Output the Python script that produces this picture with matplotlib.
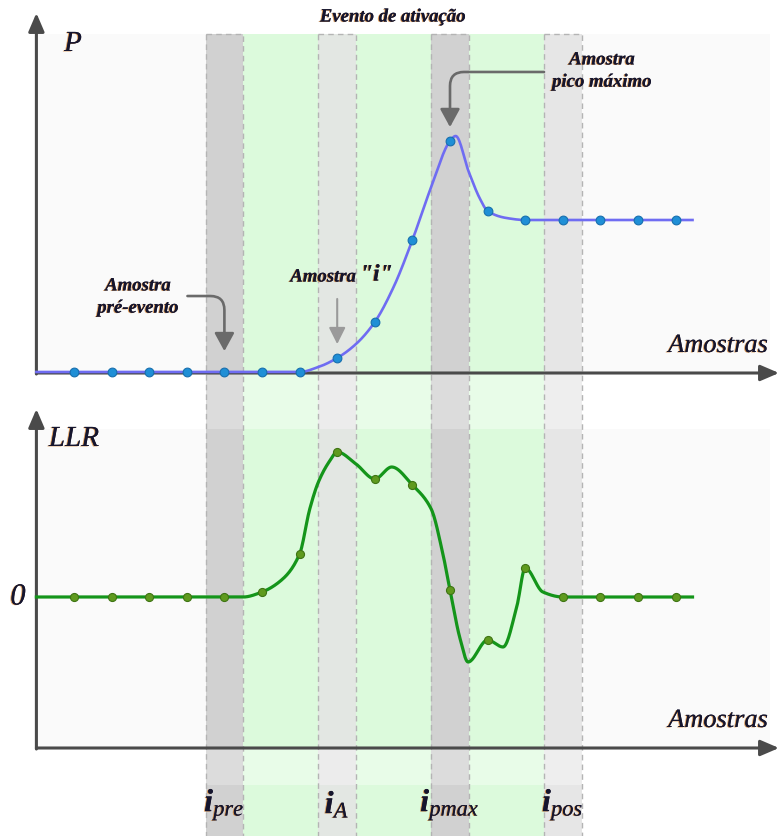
import numpy as np
import matplotlib
matplotlib.use("Agg")
import matplotlib.pyplot as plt
import matplotlib.patheffects as pe
from matplotlib.patches import Rectangle

plt.rcParams["font.family"] = ["Liberation Serif", "DejaVu Serif"]
plt.rcParams["mathtext.fontset"] = "custom"
plt.rcParams["mathtext.rm"] = "Liberation Serif"
plt.rcParams["mathtext.it"] = "Liberation Serif:italic"
plt.rcParams["mathtext.bf"] = "Liberation Serif:bold"
plt.rcParams["mathtext.bfit"] = "Liberation Serif:bold:italic"

# sample values (arbitrary units)
samples = np.arange(1, 18)
p_samples = [0, 0, 0, 0, 0, 0, 0, 0.14, 0.50, 1.32, 2.31, 1.61, 1.52, 1.52, 1.52, 1.52, 1.52]
llr_samples = [0, 0, 0, 0, 0, 0.05, 0.43, 1.45, 1.18, 1.12, 0.07, -0.43, 0.29, 0, 0, 0, 0]

# extra points of the continuous curves between samples
p_extra_x = [0, 7.5, 8.5, 9.5, 10.5, 11.15, 11.5, 11.8, 12.5, 17.45]
p_extra_y = [0, 0.05, 0.28, 0.85, 1.85, 2.36, 2.00, 1.73, 1.54, 1.52]
llr_extra_x = [0, 5.5, 6.55, 7.27, 7.5, 7.8, 8.5, 9.45, 10.5, 10.8, 11.27, 11.48,
               12.41, 12.78, 13.47, 17.45]
llr_extra_y = [0, 0, 0.18, 0.88, 1.15, 1.36, 1.33, 1.30, 0.88, 0.45, -0.42, -0.65,
               -0.50, -0.09, 0.05, 0]

# event windows: (label, sample, kind)
marks = [("pre", 5, "dark"), ("A", 8, "light"), ("pmax", 11, "dark"), ("pos", 14, "pale")]
green_spans = [(5.5, 7.5), (8.5, 10.5), (11.5, 13.5)]

W, H = 779.0, 837.0
X0, DX = 36.4, 37.6          # pixel column of sample 0 and sample spacing
XLIM = (-X0 / DX, (W - X0) / DX)


def kx(px):
    return (px - X0) / DX


def pchip(xk, yk, xs):
    xk = np.asarray(xk, float)
    yk = np.asarray(yk, float)
    h = np.diff(xk)
    d = np.diff(yk) / h
    m = np.zeros_like(yk)
    for i in range(1, len(xk) - 1):
        if d[i - 1] * d[i] > 0:
            w1 = 2 * h[i] + h[i - 1]
            w2 = h[i] + 2 * h[i - 1]
            m[i] = (w1 + w2) / (w1 / d[i - 1] + w2 / d[i])
    m[0], m[-1] = d[0], d[-1]
    idx = np.clip(np.searchsorted(xk, xs) - 1, 0, len(xk) - 2)
    t = (xs - xk[idx]) / h[idx]
    h00 = 2 * t**3 - 3 * t**2 + 1
    h10 = t**3 - 2 * t**2 + t
    h01 = -2 * t**3 + 3 * t**2
    h11 = t**3 - t**2
    return (h00 * yk[idx] + h10 * h[idx] * m[idx]
            + h01 * yk[idx + 1] + h11 * h[idx] * m[idx + 1])


def knots(sx, sy, ex, ey):
    pts = sorted(set(zip(list(sx), list(sy))) | set(zip(ex, ey)))
    return [p[0] for p in pts], [p[1] for p in pts]


fig = plt.figure(figsize=(W / 100, H / 100), dpi=100)

# background layer in (sample, pixel row) coordinates
bg = fig.add_axes([0, 0, 1, 1])
bg.set_xlim(XLIM)
bg.set_ylim(H, 0)
bg.axis("off")

panels = [(35, 375), (430, 750)]
for top, bot in panels:
    bg.add_patch(Rectangle((0, top), kx(770), bot - top, color="#fafafa", lw=0, zorder=0))

inside = [(35, 375), (430, 750), (786, H)]
colors = {"dark": ("#dcdcdc", "#d1d1d1"), "light": ("#ececec", "#e3e7e3"),
          "pale": ("#eeeeee", "#e6e6e6"), "green": ("#e8fce8", "#dcfadc")}
band_list = [(lo, hi, "green") for lo, hi in green_spans] + \
            [(s - 0.5, s + 0.5, kind) for _, s, kind in marks]
for lo, hi, kind in band_list:
    out_c, in_c = colors[kind]
    bg.add_patch(Rectangle((lo, 35), hi - lo, H - 35, color=out_c, lw=0, zorder=1))
    for top, bot in inside:
        bg.add_patch(Rectangle((lo, top), hi - lo, bot - top, color=in_c, lw=0, zorder=2))
for _, s, _k in marks:
    bg.add_patch(Rectangle((s - 0.5, 35), 1, H - 35 + 5, fill=False, ec="#b4b4b4",
                           lw=1.0, ls=(0, (4, 3)), zorder=3))

# axes arrows
axis_kw = dict(arrowstyle="-|>,head_length=0.7,head_width=0.3", color="#4a4a4a",
               lw=2.2, mutation_scale=16, shrinkA=0, shrinkB=0)
for y_base, y_tip in [(375, 14), (750, 410)]:
    bg.annotate("", xy=(0, y_tip), xytext=(0, y_base), arrowprops=axis_kw,
                annotation_clip=False, zorder=6)
    bg.annotate("", xy=(kx(779), y_base - 1), xytext=(0, y_base - 1),
                arrowprops=axis_kw, annotation_clip=False, zorder=6)

# curves
ax_p = fig.add_axes([0, 1 - 375 / H, 1, 340 / H])
ax_l = fig.add_axes([0, 1 - 750 / H, 1, 320 / H])
for ax in (ax_p, ax_l):
    ax.set_xlim(XLIM)
    ax.patch.set_alpha(0)
    ax.axis("off")
ax_p.set_ylim(-0.02, 3.38)
ax_l.set_ylim(-1.52, 1.68)

xs = np.linspace(0, 17.45, 800)
kx_p, ky_p = knots(samples, p_samples, p_extra_x, p_extra_y)
ax_p.plot(xs, pchip(kx_p, ky_p, xs), color="#6f6cf2", lw=1.9, zorder=7, clip_on=False)
ax_p.plot(samples, p_samples, "o", ms=6.3, mfc="#1f8fd6", mec="#176fae", mew=0.8,
          zorder=8, clip_on=False)

kx_l, ky_l = knots(samples, llr_samples, llr_extra_x, llr_extra_y)
ax_l.plot(xs, pchip(kx_l, ky_l, xs), color="#14951a", lw=2.3, zorder=3)
ax_l.plot(samples, llr_samples, "o", ms=5.8, mfc="#5f9a1e", mec="#3e7413", mew=0.8,
          zorder=4)

# text with a slight coloured fringe
tcol = "#15152e"
fx = [pe.withSimplePatchShadow(offset=(-0.8, -0.3), shadow_rgbFace="#d07a22", alpha=0.75),
      pe.Normal()]


def label(px, py, s, **kw):
    kw.setdefault("color", tcol)
    fig.text(px / W, 1 - py / H, s, ha=kw.pop("ha", "center"), va=kw.pop("va", "center"),
             path_effects=fx, **kw)


note = dict(fontsize=13.5, fontweight="bold", fontstyle="italic")
label(393, 18, "Evento de ativação", **note)
label(602, 72, "Amostra\npico máximo", linespacing=1.4, **note)
label(138, 298, "Amostra\npré-evento", linespacing=1.4, **note)
label(356, 278, "Amostra", ha="right", **note)
label(360, 276, '"i"', ha="left", fontsize=17, fontweight="bold", fontstyle="italic")

label(768, 347, "Amostras", ha="right", fontsize=19, fontstyle="italic")
label(768, 722, "Amostras", ha="right", fontsize=19, fontstyle="italic")
label(73, 45, "P", fontsize=21, fontstyle="italic")
label(74, 440, "LLR", fontsize=21, fontstyle="italic")
label(18, 598, "0", fontsize=22, fontstyle="italic")

for name, s, _k in marks:
    label(X0 + DX * s, 806, r"$\mathbfit{i}_{\mathit{%s}}$" % name, fontsize=23)

# pointer arrows
ptr = dict(arrowstyle="-|>,head_length=0.55,head_width=0.3", color="#6a6a6a", lw=1.9,
           mutation_scale=20, shrinkA=0)
ax_p.annotate("", xy=(11, p_samples[10]), xytext=(67.7, 49.7), textcoords="offset points",
              arrowprops=dict(ptr, shrinkB=10,
                              connectionstyle="angle,angleA=0,angleB=90,rad=14"))
ax_p.annotate("", xy=(5, p_samples[4]), xytext=(-26.6, 54.7), textcoords="offset points",
              arrowprops=dict(ptr, shrinkB=15,
                              connectionstyle="angle,angleA=0,angleB=90,rad=14"))
ax_p.annotate("", xy=(8, p_samples[7]), xytext=(0, 42.5), textcoords="offset points",
              arrowprops=dict(ptr, color="#9a9a9a", lw=1.5, shrinkB=10,
                              arrowstyle="-|>,head_length=0.5,head_width=0.25"))

fig.savefig("out.png", dpi=100)
